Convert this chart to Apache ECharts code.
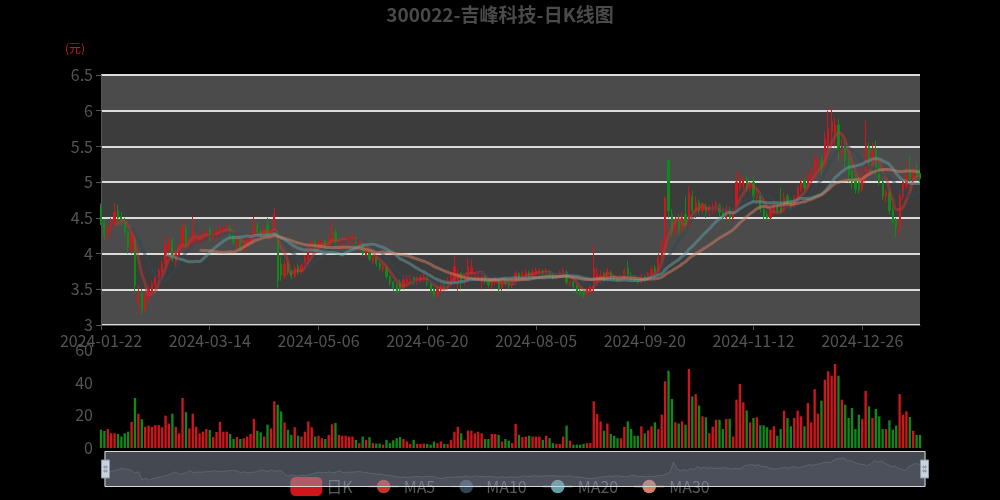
<!DOCTYPE html>
<html><head><meta charset="utf-8">
<script src="https://cdn.jsdelivr.net/npm/echarts@6/dist/echarts.min.js"></script>
<style>html,body{margin:0;padding:0;background:#000;}#c{width:1000px;height:500px;}</style>
</head><body><div id="c"></div>
<script>
const dates = [
'2024-01-22','2024-01-23','2024-01-24','2024-01-25','2024-01-26','2024-01-29','2024-01-30','2024-01-31',
'2024-02-01','2024-02-02','2024-02-05','2024-02-06','2024-02-07','2024-02-08','2024-02-19','2024-02-20','2024-02-21','2024-02-22','2024-02-23','2024-02-26','2024-02-27','2024-02-28','2024-02-29',
'2024-03-01','2024-03-04','2024-03-05','2024-03-06','2024-03-07','2024-03-08','2024-03-11','2024-03-12','2024-03-13','2024-03-14','2024-03-15','2024-03-18','2024-03-19','2024-03-20','2024-03-21','2024-03-22','2024-03-25','2024-03-26','2024-03-27','2024-03-28','2024-03-29',
'2024-04-01','2024-04-02','2024-04-03','2024-04-08','2024-04-09','2024-04-10','2024-04-11','2024-04-12','2024-04-15','2024-04-16','2024-04-17','2024-04-18','2024-04-19','2024-04-22','2024-04-23','2024-04-24','2024-04-25','2024-04-26','2024-04-29','2024-04-30',
'2024-05-06','2024-05-07','2024-05-08','2024-05-09','2024-05-10','2024-05-13','2024-05-14','2024-05-15','2024-05-16','2024-05-17','2024-05-20','2024-05-21','2024-05-22','2024-05-23','2024-05-24','2024-05-27','2024-05-28','2024-05-29','2024-05-30','2024-05-31',
'2024-06-03','2024-06-04','2024-06-05','2024-06-06','2024-06-07','2024-06-11','2024-06-12','2024-06-13','2024-06-14','2024-06-17','2024-06-18','2024-06-19','2024-06-20','2024-06-21','2024-06-24','2024-06-25','2024-06-26','2024-06-27','2024-06-28',
'2024-07-01','2024-07-02','2024-07-03','2024-07-04','2024-07-05','2024-07-08','2024-07-09','2024-07-10','2024-07-11','2024-07-12','2024-07-15','2024-07-16','2024-07-17','2024-07-18','2024-07-19','2024-07-22','2024-07-23','2024-07-24','2024-07-25','2024-07-26','2024-07-29','2024-07-30','2024-07-31',
'2024-08-01','2024-08-02','2024-08-05','2024-08-06','2024-08-07','2024-08-08','2024-08-09','2024-08-12','2024-08-13','2024-08-14','2024-08-15','2024-08-16','2024-08-19','2024-08-20','2024-08-21','2024-08-22','2024-08-23','2024-08-26','2024-08-27','2024-08-28','2024-08-29','2024-08-30',
'2024-09-02','2024-09-03','2024-09-04','2024-09-05','2024-09-06','2024-09-09','2024-09-10','2024-09-11','2024-09-12','2024-09-13','2024-09-18','2024-09-19','2024-09-20','2024-09-23','2024-09-24','2024-09-25','2024-09-26','2024-09-27','2024-09-30',
'2024-10-08','2024-10-09','2024-10-10','2024-10-11','2024-10-14','2024-10-15','2024-10-16','2024-10-17','2024-10-18','2024-10-21','2024-10-22','2024-10-23','2024-10-24','2024-10-25','2024-10-28','2024-10-29','2024-10-30','2024-10-31',
'2024-11-01','2024-11-04','2024-11-05','2024-11-06','2024-11-07','2024-11-08','2024-11-11','2024-11-12','2024-11-13','2024-11-14','2024-11-15','2024-11-18','2024-11-19','2024-11-20','2024-11-21','2024-11-22','2024-11-25','2024-11-26','2024-11-27','2024-11-28','2024-11-29',
'2024-12-02','2024-12-03','2024-12-04','2024-12-05','2024-12-06','2024-12-09','2024-12-10','2024-12-11','2024-12-12','2024-12-13','2024-12-16','2024-12-17','2024-12-18','2024-12-19','2024-12-20','2024-12-23','2024-12-24','2024-12-25','2024-12-26','2024-12-27','2024-12-30','2024-12-31',
'2025-01-02','2025-01-03','2025-01-06','2025-01-07','2025-01-08','2025-01-09','2025-01-10','2025-01-13','2025-01-14','2025-01-15','2025-01-16','2025-01-17','2025-01-20','2025-01-21'
];
// [open, close, low, high]
const ohlc = [
[4.62,4.45,4.40,4.70],[4.45,4.25,4.18,4.48],[4.22,4.35,4.20,4.40],[4.35,4.42,4.30,4.50],[4.42,4.58,4.40,4.70],
[4.60,4.50,4.45,4.68],[4.52,4.45,4.38,4.58],[4.45,4.30,4.25,4.50],[4.30,4.08,4.00,4.32],[4.05,4.28,4.00,4.32],
[4.20,3.55,3.45,4.25],[3.30,3.45,3.15,3.55],[3.45,3.22,3.15,3.50],[3.22,3.42,3.18,3.45],[3.38,3.50,3.30,3.55],
[3.48,3.58,3.42,3.62],[3.56,3.66,3.50,3.70],[3.64,3.76,3.60,3.80],[3.74,3.86,3.70,3.90],[3.86,4.12,3.82,4.25],
[4.05,4.18,4.00,4.22],[4.18,3.92,3.88,4.22],[3.88,4.00,3.82,4.05],[3.98,4.10,3.95,4.15],[4.08,4.38,4.05,4.45],
[4.35,4.12,4.08,4.40],[4.10,4.20,4.06,4.25],[4.16,4.32,4.12,4.52],[4.15,4.20,4.12,4.25],[4.16,4.24,4.12,4.28],
[4.20,4.26,4.15,4.30],[4.22,4.30,4.18,4.35],[4.33,4.20,4.16,4.38],[4.20,4.28,4.16,4.32],[4.25,4.30,4.20,4.34],
[4.26,4.36,4.22,4.40],[4.30,4.35,4.26,4.38],[4.32,4.38,4.28,4.42],[4.36,4.25,4.20,4.40],[4.25,4.16,4.12,4.28],
[4.10,4.20,4.06,4.24],[4.20,4.06,4.02,4.22],[4.05,4.14,4.02,4.18],[4.12,4.20,4.08,4.24],[4.16,4.26,4.12,4.30],
[4.22,4.40,4.20,4.52],[4.40,4.30,4.26,4.44],[4.30,4.24,4.20,4.34],[4.24,4.34,4.20,4.38],[4.40,4.25,4.22,4.50],
[4.25,4.32,4.20,4.36],[4.30,4.55,4.28,4.65],[4.30,3.62,3.52,4.32],[3.85,3.70,3.62,3.95],[3.68,3.85,3.65,3.90],
[3.85,3.74,3.70,3.88],[3.75,3.68,3.64,3.78],[3.68,3.80,3.66,3.84],[3.82,3.74,3.70,3.86],[3.74,3.84,3.72,3.88],
[3.84,3.94,3.80,3.98],[3.92,4.08,3.88,4.12],[4.06,4.16,4.02,4.20],[4.16,4.08,4.04,4.20],[4.08,4.16,4.05,4.20],
[4.12,4.16,4.08,4.20],[4.18,4.10,4.06,4.20],[4.10,4.20,4.08,4.24],[4.16,4.32,4.14,4.45],[4.30,4.12,4.10,4.34],
[4.10,4.16,4.06,4.20],[4.14,4.18,4.10,4.22],[4.15,4.20,4.12,4.24],[4.16,4.22,4.12,4.26],[4.18,4.24,4.14,4.28],
[4.22,4.14,4.10,4.24],[4.12,4.16,4.10,4.20],[4.14,4.00,3.96,4.16],[3.98,4.04,3.95,4.08],[4.02,3.92,3.90,4.04],
[3.90,3.95,3.86,3.98],[3.94,3.86,3.82,3.96],[3.86,3.80,3.76,3.88],[3.78,3.82,3.74,3.86],[3.80,3.68,3.64,3.82],
[3.68,3.60,3.55,3.70],[3.60,3.52,3.48,3.62],[3.55,3.48,3.44,3.58],[3.60,3.50,3.46,3.64],[3.52,3.64,3.50,3.68],
[3.60,3.66,3.56,3.70],[3.62,3.66,3.58,3.70],[3.66,3.60,3.56,3.68],[3.60,3.64,3.56,3.68],[3.62,3.66,3.58,3.70],
[3.64,3.68,3.60,3.72],[3.66,3.58,3.54,3.68],[3.58,3.48,3.44,3.60],[3.50,3.42,3.38,3.52],[3.42,3.50,3.38,3.54],
[3.50,3.58,3.46,3.62],[3.58,3.54,3.50,3.60],[3.54,3.62,3.50,3.66],[3.60,3.70,3.56,3.74],[3.62,3.82,3.58,3.96],
[3.60,3.72,3.48,3.78],[3.72,3.60,3.50,3.74],[3.60,3.66,3.56,3.70],[3.64,3.82,3.60,3.94],[3.72,3.80,3.68,3.92],
[3.66,3.70,3.62,3.74],[3.66,3.70,3.62,3.72],[3.60,3.68,3.50,3.72],[3.68,3.62,3.58,3.70],[3.62,3.56,3.52,3.64],
[3.56,3.64,3.50,3.66],[3.60,3.66,3.56,3.68],[3.62,3.50,3.44,3.64],[3.52,3.60,3.48,3.64],[3.62,3.58,3.55,3.66],
[3.60,3.56,3.50,3.62],[3.56,3.62,3.52,3.66],[3.60,3.72,3.56,3.76],[3.72,3.66,3.62,3.74],[3.66,3.72,3.62,3.76],
[3.68,3.74,3.64,3.78],[3.74,3.68,3.64,3.76],[3.68,3.74,3.66,3.78],[3.70,3.76,3.68,3.80],[3.72,3.76,3.68,3.80],
[3.76,3.70,3.66,3.78],[3.70,3.76,3.68,3.80],[3.74,3.70,3.66,3.76],[3.70,3.66,3.64,3.72],[3.66,3.70,3.64,3.72],
[3.68,3.74,3.66,3.76],[3.70,3.76,3.68,3.80],[3.74,3.60,3.56,3.76],[3.58,3.60,3.54,3.62],[3.60,3.54,3.50,3.62],
[3.54,3.48,3.44,3.56],[3.48,3.44,3.40,3.50],[3.46,3.42,3.38,3.48],[3.42,3.50,3.40,3.52],[3.48,3.54,3.44,3.56],
[3.52,3.80,3.46,4.12],[3.62,3.72,3.55,3.80],[3.62,3.70,3.58,3.76],[3.72,3.64,3.60,3.74],[3.64,3.76,3.62,3.80],
[3.74,3.68,3.64,3.76],[3.68,3.64,3.62,3.70],[3.66,3.62,3.60,3.68],[3.62,3.68,3.60,3.70],[3.66,3.76,3.64,3.80],
[3.80,3.68,3.66,3.90],[3.70,3.64,3.62,3.74],[3.66,3.62,3.60,3.68],[3.64,3.60,3.58,3.66],[3.60,3.68,3.58,3.72],
[3.68,3.64,3.60,3.70],[3.64,3.72,3.62,3.75],[3.70,3.78,3.68,3.82],[3.80,3.74,3.70,3.84],[3.76,3.94,3.72,4.00],
[3.96,4.15,3.90,4.20],[4.10,4.78,4.05,4.80],[5.30,4.60,4.50,5.32],[4.55,4.30,4.24,4.62],[4.30,4.45,4.25,4.52],
[4.45,4.32,4.26,4.55],[4.30,4.50,4.28,4.58],[4.55,4.40,4.30,4.80],[4.40,4.85,4.35,4.94],[4.80,4.60,4.52,4.88],
[4.58,4.72,4.50,4.80],[4.72,4.60,4.55,4.76],[4.60,4.66,4.55,4.72],[4.66,4.56,4.50,4.70],[4.56,4.64,4.52,4.68],
[4.60,4.66,4.56,4.70],[4.62,4.70,4.58,4.74],[4.68,4.58,4.52,4.70],[4.58,4.50,4.46,4.60],[4.50,4.62,4.46,4.68],
[4.62,4.50,4.46,4.66],[4.50,4.62,4.46,4.64],[4.62,5.00,4.60,5.15],[4.92,5.05,4.88,5.12],[4.95,5.02,4.90,5.08],
[5.05,4.90,4.86,5.10],[4.90,4.96,4.86,5.00],[5.00,4.78,4.72,5.08],[4.78,4.85,4.70,4.90],[4.82,4.62,4.58,4.86],
[4.62,4.52,4.48,4.66],[4.55,4.50,4.46,4.60],[4.50,4.60,4.48,4.64],[4.58,4.66,4.55,4.70],[4.66,4.60,4.56,4.70],
[4.66,4.58,4.55,4.92],[4.60,4.78,4.58,4.85],[4.80,4.70,4.66,4.84],[4.72,4.66,4.62,4.76],[4.66,4.78,4.64,4.82],
[4.78,4.92,4.75,4.96],[4.90,5.00,4.86,5.05],[5.02,4.92,4.88,5.06],[4.92,5.10,4.90,5.15],[5.05,5.12,5.00,5.20],
[5.10,5.30,5.05,5.40],[5.25,5.30,5.15,5.35],[5.30,5.20,5.10,5.36],[5.25,5.60,5.20,5.70],[5.50,5.75,5.45,6.00],
[5.70,5.85,5.50,6.05],[5.70,5.80,5.50,5.90],[5.80,5.45,5.30,5.88],[5.40,5.50,5.30,5.60],[5.50,5.30,5.20,5.55],
[5.30,5.10,5.00,5.35],[5.15,5.00,4.90,5.20],[5.05,4.90,4.84,5.10],[5.00,4.88,4.84,5.08],[4.90,5.10,4.86,5.20],
[5.10,5.50,5.05,5.86],[5.50,5.30,5.20,5.55],[5.30,5.45,5.25,5.55],[5.45,5.20,5.10,5.58],[5.20,5.00,4.95,5.25],
[5.00,4.80,4.75,5.05],[4.80,4.86,4.72,4.90],[4.85,4.60,4.55,4.88],[4.60,4.45,4.40,4.65],[4.48,4.38,4.22,4.50],
[4.35,4.80,4.25,4.85],[4.80,5.00,4.75,5.05],[4.95,5.10,4.90,5.30],[5.15,5.05,5.00,5.38],[5.05,5.15,5.00,5.20],
[5.15,5.08,5.02,5.25],[5.12,5.05,5.00,5.18]
];
const volumes = [
11.2,10.4,11.6,9,9,8.6,7,9,10,16,30.6,21,17.7,13,13.7,13,14,14,12.7,19.8,
15,21,13,9,30.6,22,12,21,13,9,10,11.6,11,6.7,9.8,16,10,10,8.6,5.5,
6.7,5.5,6,7,8.6,17.8,10.6,9.6,7,14.3,12,28.6,26.5,22.4,15.7,11.2,8,12.7,7.5,7,
10,16.3,12.7,7,7.5,6,5.5,8,14.5,15.3,8,7.5,7.5,7,7,5,3,7,5,6.7,
3,2.7,2.7,2,5,3,4.7,6,6.7,5.5,4,2.5,5,2.5,2.5,2.7,2.5,2,4,3,
4,2.5,2.5,5,10,13,9,5,10.6,10.6,9,10,9,5.5,5.5,8.6,8.6,8,4,5.5,
4.5,3,14.7,8,6.7,7,7.5,7,7,7,5,7.5,6,3,2.5,2.5,7,13.7,4.5,2,
2,2,2.5,3,3,28.6,20.8,16.3,10.6,15,8.6,7.5,6,6,13,16.3,11.6,7.5,7.5,13.3,
9,10.8,13.3,15.7,11.6,20.4,40.8,47.3,30,15.7,15,16.3,14.3,48.4,31.6,33,26,19.4,18.8,9,
13,17.3,17.3,11.6,17.8,17.8,7,29.6,39.2,28,23,15.7,18.4,18.8,13.9,13.9,12.7,11.2,13.3,7.5,
11.6,22.9,18.4,13.3,18.4,22.9,19.4,13.3,27.6,15.7,36,21,29,41.8,47,44.3,51.4,44.3,29.6,26.5,
18.4,24.5,11.6,20.4,17.8,35,25.5,18.4,23.9,19.4,11.6,11.6,17,11.2,13.7,33,20.4,22.4,19,10.6,
8,8
];
const seriesNames = ['日K','MA5','MA10','MA20','MA30'];
const maPeriods = [5,10,20,30];
const maColors = ['#c23531','#2f4554','#61a0a8','#d48265'];
const UP = '#d0151b', DOWN = '#10891a';

function calcMA(n){
  const out = [];
  for (let i = 0; i < ohlc.length; i++) {
    if (i < n - 1) { out.push('-'); continue; }
    let s = 0;
    for (let j = 0; j < n; j++) s += ohlc[i - j][1];
    out.push(+(s / n).toFixed(3));
  }
  return out;
}

const chart = echarts.init(document.getElementById('c'));
const lineSeries = maPeriods.map((p, k) => ({
  name: seriesNames[k + 1], type: 'line', data: calcMA(p), smooth: true,
  showSymbol: false, symbol: 'circle', symbolSize: 8,
  xAxisIndex: 0, yAxisIndex: 0,
  itemStyle: { color: maColors[k] },
  lineStyle: { color: maColors[k], width: 3, opacity: 0.5 }
}));
chart.setOption({
  animation: false,
  backgroundColor: '#000',
  textStyle: { fontFamily: '"Noto Sans CJK SC","Noto Sans",sans-serif' },
  title: { text: '300022-吉峰科技-日K线图', left: 'center', top: 0,
    textStyle: { color: '#4a4a4a', fontSize: 19, fontWeight: 'bold' } },
  legend: { data: seriesNames, top: 472, left: 'center', itemWidth: 30, itemHeight: 17, itemGap: 15,
    textStyle: { color: '#5a5a5a', fontSize: 16 }, z: 1 },
  grid: [
    { left: 101, right: 80, top: 75, height: 250 },
    { left: 101, right: 80, top: 350, height: 98 }
  ],
  xAxis: [
    { type: 'category', data: dates, gridIndex: 0, boundaryGap: false,
      axisLine: { lineStyle: { color: '#555' } },
      axisTick: { interval: 31, lineStyle: { color: '#555' } },
      axisLabel: { interval: 31, color: '#555', fontSize: 16 },
      splitLine: { show: false } },
    { type: 'category', data: dates, gridIndex: 1, boundaryGap: false,
      axisLine: { show: false }, axisTick: { show: false }, axisLabel: { show: false }, splitLine: { show: false } }
  ],
  yAxis: [
    { type: 'value', gridIndex: 0, min: 3, max: 6.5, interval: 0.5, name: '(元)', nameGap: 21,
      nameTextStyle: { color: '#c41a1a', fontSize: 12, align: 'right', padding: [0, 16, 0, 0] },
      axisLine: { show: true, lineStyle: { color: '#555' } },
      axisTick: { show: true, lineStyle: { color: '#555' } },
      axisLabel: { color: '#555', fontSize: 16 },
      splitLine: { show: true, lineStyle: { color: '#dcdcdc', width: 2 } },
      splitArea: { show: true, areaStyle: { color: ['#4b4b4b', '#3c3c3c'] } } },
    { type: 'value', gridIndex: 1, min: 0, max: 60, interval: 20,
      axisLine: { show: false }, axisTick: { show: false },
      axisLabel: { color: '#555', fontSize: 16 }, splitLine: { show: false } }
  ],
  dataZoom: [
    { type: 'inside', xAxisIndex: [0, 1], start: 0, end: 100 },
    { type: 'slider', xAxisIndex: [0, 1], start: 0, end: 100, left: 102, right: 77, top: 451, height: 36,
      borderColor: '#d8d8d8', fillerColor: 'rgba(150,160,180,0.45)', backgroundColor: 'rgba(0,0,0,0)',
      showDetail: false, brushSelect: false, moveHandleSize: 0,
      moveHandleStyle: { opacity: 0 }, moveHandleIcon: 'none',
      handleIcon: 'path://M0,0H8V18H0Z M2.5,6H3.5V8H2.5Z M4.5,6H5.5V8H4.5Z M2.5,10H3.5V12H2.5Z M4.5,10H5.5V12H4.5Z',
      handleSize: 18,
      handleStyle: { color: '#c9d2de', borderColor: '#8a96a6', borderWidth: 1 },
      dataBackground: { lineStyle: { color: '#8a94a4', opacity: 0.3, width: 1 }, areaStyle: { color: '#8a94a4', opacity: 0.1 } },
      selectedDataBackground: { lineStyle: { color: '#8a94a4', opacity: 0.3, width: 1 }, areaStyle: { color: '#8a94a4', opacity: 0.1 } },
      z: 10 }
  ],
  series: [
    { name: '日K', type: 'candlestick', data: ohlc, xAxisIndex: 0, yAxisIndex: 0,
      itemStyle: { color: UP, color0: DOWN, borderColor: UP, borderColor0: DOWN } },
    ...lineSeries,
    { name: '成交量', type: 'bar', xAxisIndex: 1, yAxisIndex: 1,
      data: volumes.map((v, i) => ({ value: v, itemStyle: { color: ohlc[i][1] >= ohlc[i][0] ? UP : DOWN } })) }
  ]
});
</script></body></html>
